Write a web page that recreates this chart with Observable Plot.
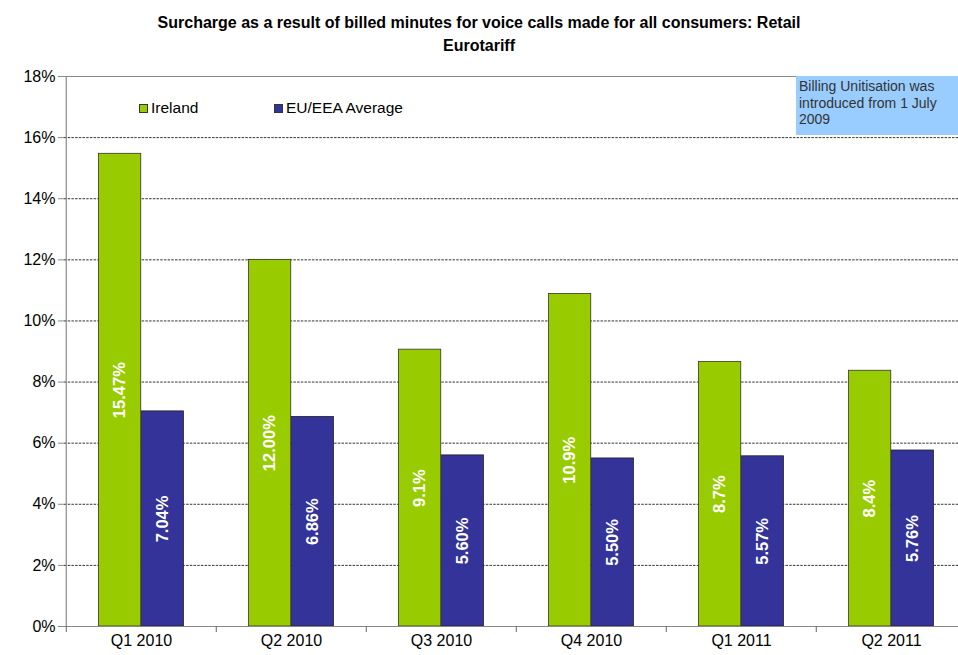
<!DOCTYPE html>
<html>
<head>
<meta charset="utf-8">
<script src="https://cdn.jsdelivr.net/npm/d3@7"></script>
<script src="https://cdn.jsdelivr.net/npm/@observablehq/plot@0.6"></script>
<style>
  html, body { margin: 0; padding: 0; background: #fff; overflow: hidden; }
  #wrap { position: relative; width: 958px; height: 655px; font-family: "Liberation Sans", Arial, sans-serif; }
  #title { height: 60px; box-sizing: border-box; padding-top: 11px; text-align: center; font-weight: bold; font-size: 16px; line-height: 23px; color: #000; }
  #chart svg { display: block; }
  .leg { position: absolute; font-size: 15.5px; color: #000; display: flex; align-items: center; white-space: nowrap; }
  .sw { width: 7px; height: 7px; border: 1px solid #333; margin-right: 3px; }
  #note { position: absolute; left: 796px; top: 76px; width: 175px; height: 59px; background: #99CCFF; font-size: 14px; line-height: 16.5px; color: #333; padding: 2px 0 0 3px; box-sizing: border-box; }
</style>
</head>
<body>
<div id="wrap">
  <div id="title">Surcharge as a result of billed minutes for voice calls made for all consumers: Retail<br>Eurotariff</div>
  <div id="chart"></div>
  <div class="leg" style="left:139px; top:99px;"><div class="sw" style="background:#99CC00"></div>Ireland</div>
  <div class="leg" style="left:274px; top:99px;"><div class="sw" style="background:#333399"></div>EU/EEA Average</div>
  <div id="note">Billing Unitisation was<br>introduced from 1 July<br>2009</div>
</div>
<script>
const quarters = ["Q1 2010", "Q2 2010", "Q3 2010", "Q4 2010", "Q1 2011", "Q2 2011"];
const ireland = [15.47, 12.00, 9.06, 10.88, 8.66, 8.37];
const irelandLabels = ["15.47%", "12.00%", "9.1%", "10.9%", "8.7%", "8.4%"];
const euAverage = [7.04, 6.86, 5.60, 5.50, 5.57, 5.76];
const euLabels = ["7.04%", "6.86%", "5.60%", "5.50%", "5.57%", "5.76%"];
const yTicks = [0, 2, 4, 6, 8, 10, 12, 14, 16, 18];
const gridTicks = [2, 4, 6, 8, 10, 12, 14, 16];

const rows = quarters.map((q, i) => ({quarter: q, ireland: ireland[i], eu: euAverage[i], il: irelandLabels[i], el: euLabels[i]}));

const left = 64, right = 967;
const step = (right - left) / quarters.length;
const barW = 42.7;
const gap = (step - 2 * barW) / 2;

const chart = Plot.plot({
  width: 958,
  height: 595,
  marginTop: 16,
  marginBottom: 29,
  marginLeft: left,
  marginRight: 0,
  style: {fontFamily: "'Liberation Sans', Arial, sans-serif", background: "#fff", overflow: "visible"},
  x: {type: "band", domain: quarters, range: [left, right], padding: 0, axis: null},
  y: {domain: [0, 18], axis: null},
  marks: [
    Plot.gridY(gridTicks, {stroke: "#000", strokeOpacity: 1, strokeWidth: 0.8, strokeDasharray: "2.5,1.2"}),
    Plot.ruleY([18], {stroke: "#888", strokeWidth: 1}),
    Plot.barY(rows, {x: "quarter", y: "ireland", fill: "#99CC00", stroke: "#333", strokeWidth: 0.8, insetLeft: gap, insetRight: gap + barW}),
    Plot.barY(rows, {x: "quarter", y: "eu", fill: "#333399", stroke: "#222", strokeWidth: 0.8, insetLeft: gap + barW, insetRight: gap}),
    Plot.ruleY([0], {stroke: "#888", strokeWidth: 1.2}),
    Plot.ruleX([quarters[0]], {x: d => d, dx: -step / 2, stroke: "#888", strokeWidth: 1.2}),
    Plot.axisY(yTicks, {tickFormat: d => d + "%", tickSize: 6, tickPadding: 3, fontSize: 16, stroke: "#888", color: "#000", label: null}),
    Plot.axisX(quarters, {tickSize: 6, tickFormat: () => "", dx: -step / 2, stroke: "#666", label: null}),
    Plot.axisX(quarters, {tickSize: 0, tickPadding: 8, fontSize: 16, color: "#000", label: null}),
    Plot.text(rows, {x: "quarter", y: d => d.ireland / 2, text: "il", rotate: -90, dx: -barW / 2, fill: "#fff", fontWeight: "bold", fontSize: 16.5}),
    Plot.text(rows, {x: "quarter", y: d => d.eu / 2, text: "el", rotate: -90, dx: barW / 2, fill: "#fff", fontWeight: "bold", fontSize: 16.5})
  ]
});
document.getElementById("chart").appendChild(chart);
</script>
</body>
</html>
